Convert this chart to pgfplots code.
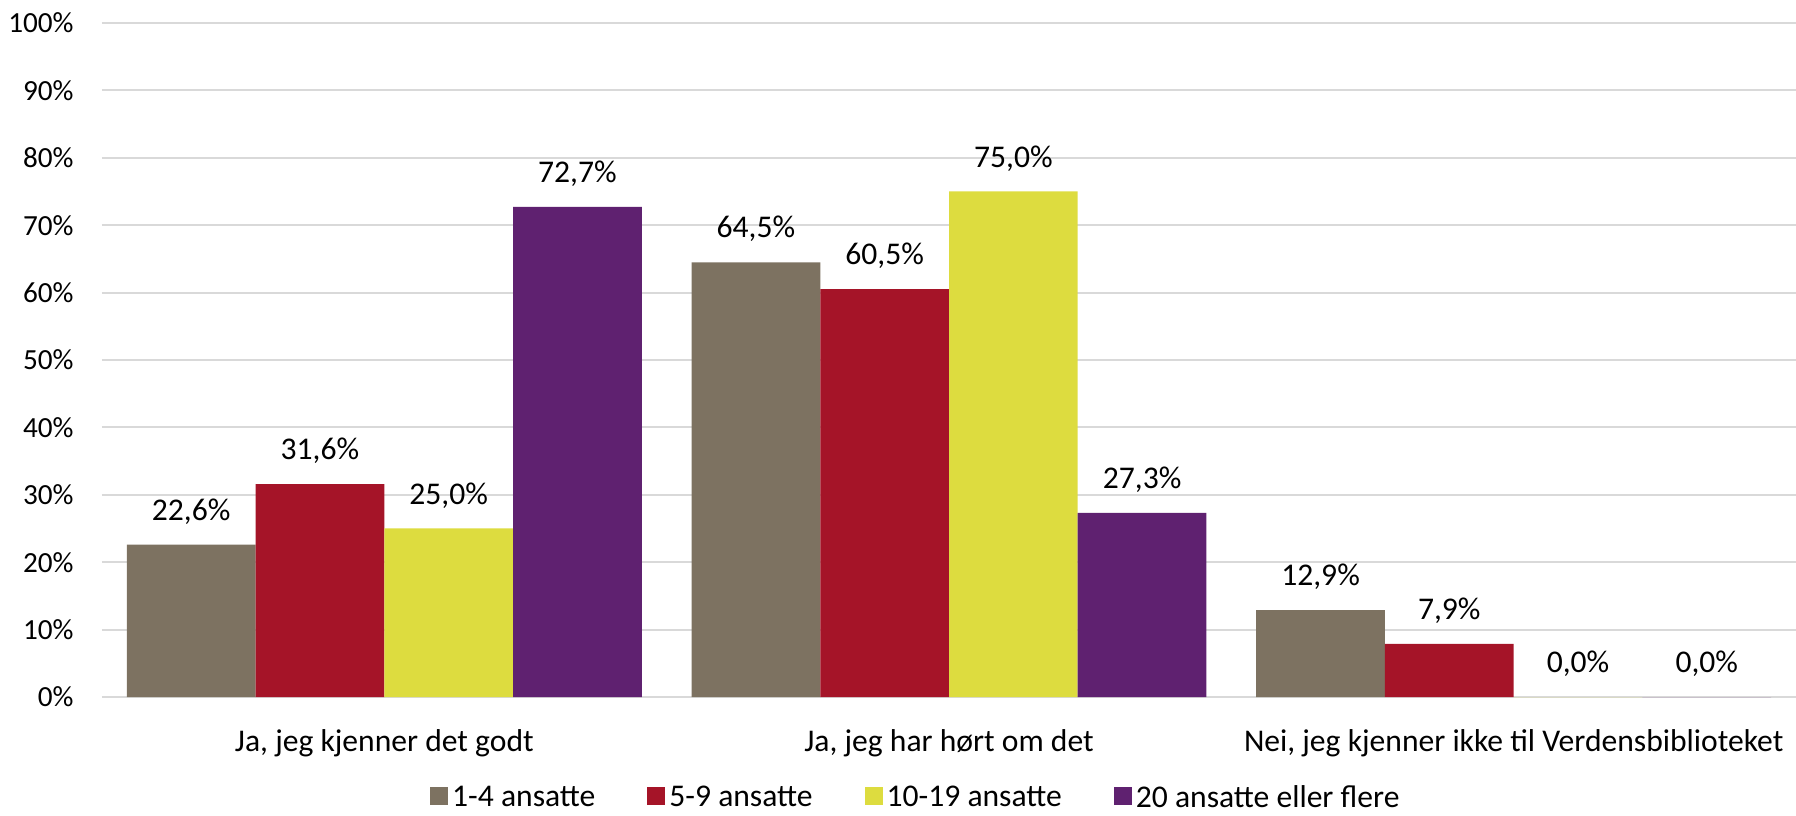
\documentclass[border=0pt]{standalone}
\usepackage{pgfplots}
\pgfplotsset{compat=1.18}
\usepackage{fontspec}
\setmainfont{Carlito}
\definecolor{cA}{HTML}{7D7261}
\definecolor{cB}{HTML}{A51428}
\definecolor{cC}{HTML}{DDDC3F}
\definecolor{cD}{HTML}{5F2170}
\definecolor{gridc}{HTML}{D9D9D9}
\begin{document}
\begin{tikzpicture}
\begin{axis}[
  scale only axis,
  width=847pt, height=337pt,
  xmin=-0.5, xmax=2.5,
  ymin=0, ymax=100,
  ybar=0pt,
  bar width=0.228,
  xtick=data,
  xticklabels={{Ja, jeg kjenner det godt},{Ja, jeg har hørt om det},{Nei, jeg kjenner ikke til Verdensbiblioteket}},
  ytick={0,10,...,100},
  yticklabel={\pgfmathprintnumber{\tick}\%},
  /pgf/number format/assume math mode=true,
  font=\fontsize{15.8}{19}\selectfont,
  ymajorgrids,
  grid style={color=gridc, line width=1pt},
  axis line style={draw=none},
  major tick length=0pt,
  yticklabel style={anchor=east, inner sep=0pt, xshift=-14pt, font=\fontsize{14.6}{17}\selectfont},
  xticklabel style={anchor=north, inner sep=0pt, yshift=-16pt},
  clip=false,
  nodes near coords={\pgfmathprintnumber[fixed, fixed zerofill, precision=1, use comma]{\pgfplotspointmeta}\%},
  nodes near coords style={anchor=south, inner sep=0pt, yshift=10pt, text=black, font=\fontsize{15.8}{19}\selectfont},
  every axis plot/.append style={draw=none},
  legend columns=4,
  legend style={draw=none, at={(0.481,-0.147)}, anchor=center, font=\fontsize{15.8}{19}\selectfont,
    nodes={text depth=0pt},
    /tikz/every even column/.append style={column sep=24pt}},
  legend image code/.code={\fill[#1] (0pt,-4.5pt) rectangle (9pt,4.5pt);},
]
\addplot[fill=cA] coordinates {(0,22.6) (1,64.5) (2,12.9)};
\addplot[fill=cB] coordinates {(0,31.6) (1,60.5) (2,7.9)};
\addplot[fill=cC] coordinates {(0,25.0) (1,75.0) (2,0.0)};
\addplot[fill=cD] coordinates {(0,72.7) (1,27.3) (2,0.0)};
\legend{1-4 ansatte, 5-9 ansatte, 10-19 ansatte, 20 ansatte eller flere}
\end{axis}
\pgfresetboundingbox
\path (-51pt,-59pt) rectangle (847pt,348.5pt);
\end{tikzpicture}
\end{document}
